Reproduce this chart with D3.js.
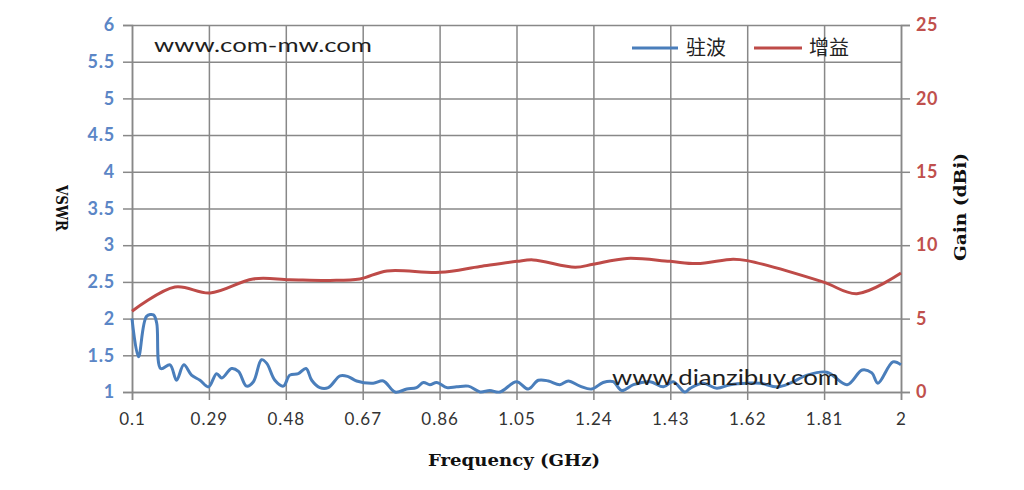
<!DOCTYPE html>
<html>
<head>
<meta charset="utf-8">
<script src="https://cdn.jsdelivr.net/npm/d3@7/dist/d3.min.js"></script>
<style>
  html, body { margin: 0; padding: 0; background: #fff; }
  svg { display: block; }
</style>
</head>
<body>
<svg id="chart" width="1024" height="490"></svg>
<script>
// ---------- DATA ----------
const xTickValues = [0.1, 0.29, 0.48, 0.67, 0.86, 1.05, 1.24, 1.43, 1.62, 1.81, 2];
const xTickLabels = ["0.1", "0.29", "0.48", "0.67", "0.86", "1.05", "1.24", "1.43", "1.62", "1.81", "2"];
const leftTickValues = [1, 1.5, 2, 2.5, 3, 3.5, 4, 4.5, 5, 5.5, 6];
const leftTickLabels = ["1", "1.5", "2", "2.5", "3", "3.5", "4", "4.5", "5", "5.5", "6"];
const rightTickValues = [0, 5, 10, 15, 20, 25];
const rightTickLabels = ["0", "5", "10", "15", "20", "25"];

const seriesNames = ["驻波", "增益"];

// VSWR (left axis)
const vswrFreq = [0.1, 0.116, 0.136, 0.153, 0.161, 0.171, 0.194, 0.21, 0.228, 0.247, 0.268, 0.289,
  0.309, 0.322, 0.346, 0.363, 0.383, 0.4, 0.42, 0.433, 0.453, 0.474, 0.49, 0.511, 0.53, 0.544,
  0.564, 0.585, 0.614, 0.634, 0.655, 0.696, 0.721, 0.75, 0.779, 0.803, 0.82, 0.836, 0.853,
  0.878, 0.902, 0.931, 0.96, 0.984, 1.009, 1.05, 1.079, 1.104, 1.129, 1.157, 1.178, 1.207,
  1.236, 1.264, 1.289, 1.31, 1.339, 1.38, 1.413, 1.437, 1.466, 1.479, 1.511, 1.545, 1.578,
  1.62, 1.652, 1.694, 1.726, 1.768, 1.817, 1.867, 1.904, 1.928, 1.943, 1.98, 2.0];
const vswrValues = [2.0, 1.48, 2.03, 2.05, 1.94, 1.32, 1.37, 1.16, 1.37, 1.23, 1.16, 1.07,
  1.25, 1.19, 1.32, 1.28, 1.08, 1.14, 1.44, 1.39, 1.16, 1.08, 1.23, 1.25, 1.32, 1.16,
  1.06, 1.06, 1.22, 1.21, 1.15, 1.12, 1.15, 1.0, 1.04, 1.06, 1.13, 1.1, 1.13,
  1.06, 1.07, 1.08, 1.0, 1.02, 1.0, 1.14, 1.04, 1.16, 1.15, 1.1, 1.15, 1.08,
  1.04, 1.13, 1.14, 1.02, 1.1, 1.14, 1.07, 1.14, 1.0, 1.05, 1.12, 1.05, 1.1,
  1.12, 1.12, 1.07, 1.12, 1.23, 1.27, 1.1, 1.3, 1.26, 1.12, 1.41, 1.37];

// Gain (right axis)
const gainFreq = [0.1, 0.206, 0.293, 0.399, 0.49, 0.589, 0.663, 0.73, 0.861, 0.96, 1.051, 1.091,
  1.195, 1.239, 1.323, 1.429, 1.496, 1.585, 1.62, 1.807, 1.891, 2.0];
const gainValues = [5.5, 7.15, 6.75, 7.7, 7.65, 7.6, 7.7, 8.25, 8.15, 8.55, 8.9, 9.0,
  8.5, 8.7, 9.1, 8.9, 8.75, 9.05, 8.95, 7.5, 6.7, 8.1];

// ---------- LAYOUT ----------
const svg = d3.select("#chart");
const L = 132, R = 901, T = 25, B = 392;
const gridColor = "#888888";
const blue = "#4a7ebb", red = "#be4b48";

const x = d3.scaleLinear().domain([0.1, 2]).range([L, R]);
const yL = d3.scaleLinear().domain([1, 6]).range([B, T]);
const yR = d3.scaleLinear().domain([0, 25]).range([B, T]);

// grid
const gGridX = svg.append("g").attr("transform", `translate(0,${B})`)
  .call(d3.axisBottom(x).tickValues(xTickValues).tickSize(-(B - T)).tickFormat(""));
const gGridY = svg.append("g").attr("transform", `translate(${L},0)`)
  .call(d3.axisLeft(yL).tickValues(leftTickValues).tickSize(-(R - L)).tickFormat(""));
[gGridX, gGridY].forEach(g => {
  g.select(".domain").remove();
  g.selectAll("line").attr("stroke", gridColor).attr("stroke-width", 1.5);
});

// axes
const axX = svg.append("g").attr("transform", `translate(0,${B})`)
  .call(d3.axisBottom(x).tickValues(xTickValues).tickSize(8).tickPadding(13)
    .tickFormat((d, i) => xTickLabels[i]));
const axL = svg.append("g").attr("transform", `translate(${L},0)`)
  .call(d3.axisLeft(yL).tickValues(leftTickValues).tickSize(9).tickPadding(8)
    .tickFormat((d, i) => leftTickLabels[i]));
const axR = svg.append("g").attr("transform", `translate(${R},0)`)
  .call(d3.axisRight(yR).tickValues(rightTickValues).tickSize(9).tickPadding(6)
    .tickFormat((d, i) => rightTickLabels[i]));
[axX, axL, axR].forEach(g => {
  g.select(".domain").attr("stroke", gridColor).attr("stroke-width", 1.5);
  g.selectAll(".tick line").attr("stroke", gridColor).attr("stroke-width", 1.5);
});
axX.selectAll("text").attr("fill", "#333").attr("font-family", "Lato, 'Open Sans', sans-serif")
  .attr("font-size", 17).attr("letter-spacing", 1).attr("dy", "0.71em");
axL.selectAll("text").attr("fill", "#5b86c6").attr("font-family", "Lato, 'Open Sans', sans-serif")
  .attr("font-size", 18).attr("font-weight", "bold").attr("letter-spacing", 0.8);
axR.selectAll("text").attr("fill", "#c0504d").attr("font-family", "Lato, 'Open Sans', sans-serif")
  .attr("font-size", 18).attr("font-weight", "bold").attr("letter-spacing", 0.5);

// lines
const gainLine = d3.line().x((d, i) => x(gainFreq[i])).y(d => yR(d)).curve(d3.curveCatmullRom.alpha(0.5));
const vswrLine = d3.line().x((d, i) => x(vswrFreq[i])).y(d => yL(d)).curve(d3.curveCatmullRom.alpha(0.5));

svg.append("path").datum(gainValues).attr("d", gainLine)
  .attr("fill", "none").attr("stroke", red).attr("stroke-width", 3);
svg.append("path").datum(vswrValues).attr("d", vswrLine)
  .attr("fill", "none").attr("stroke", blue).attr("stroke-width", 3);

// watermark texts
svg.append("text").attr("x", 154).attr("y", 52).text("www.com-mw.com")
  .attr("font-family", "Lato, 'Open Sans', sans-serif").attr("font-size", 20)
  .attr("fill", "#1e1e1e").attr("textLength", 218).attr("lengthAdjust", "spacingAndGlyphs");
svg.append("text").attr("x", 612).attr("y", 385).text("www.dianzibuy.com")
  .attr("font-family", "Lato, 'Open Sans', sans-serif").attr("font-size", 22)
  .attr("fill", "#1e1e1e").attr("textLength", 227).attr("lengthAdjust", "spacingAndGlyphs");

// legend
const legend = [
  { name: seriesNames[0], color: blue, x1: 632, x2: 678, tx: 686 },
  { name: seriesNames[1], color: red, x1: 754, x2: 802, tx: 809 }
];
legend.forEach(l => {
  svg.append("line").attr("x1", l.x1).attr("x2", l.x2).attr("y1", 48).attr("y2", 48)
    .attr("stroke", l.color).attr("stroke-width", 3);
  svg.append("text").attr("x", l.tx).attr("y", 55).text(l.name)
    .attr("font-family", "'Noto Sans CJK SC', sans-serif").attr("font-size", 20).attr("fill", "#222");
});

// axis titles
const serif = "'DejaVu Serif', 'Liberation Serif', serif";
svg.append("text").attr("x", 514).attr("y", 466).attr("text-anchor", "middle")
  .text("Frequency (GHz)").attr("font-family", serif).attr("font-weight", "bold")
  .attr("font-size", 17).attr("fill", "#111").attr("textLength", 172).attr("lengthAdjust", "spacingAndGlyphs");
svg.append("text").attr("transform", "translate(56,208) rotate(90)").attr("text-anchor", "middle")
  .text("VSWR").attr("font-family", serif).attr("font-weight", "bold")
  .attr("font-size", 16).attr("fill", "#111").attr("textLength", 46).attr("lengthAdjust", "spacingAndGlyphs");
svg.append("text").attr("transform", "translate(966,207) rotate(-90)").attr("text-anchor", "middle")
  .text("Gain (dBi)").attr("font-family", serif).attr("font-weight", "bold")
  .attr("font-size", 17).attr("fill", "#111").attr("textLength", 108).attr("lengthAdjust", "spacingAndGlyphs");
</script>
</body>
</html>
